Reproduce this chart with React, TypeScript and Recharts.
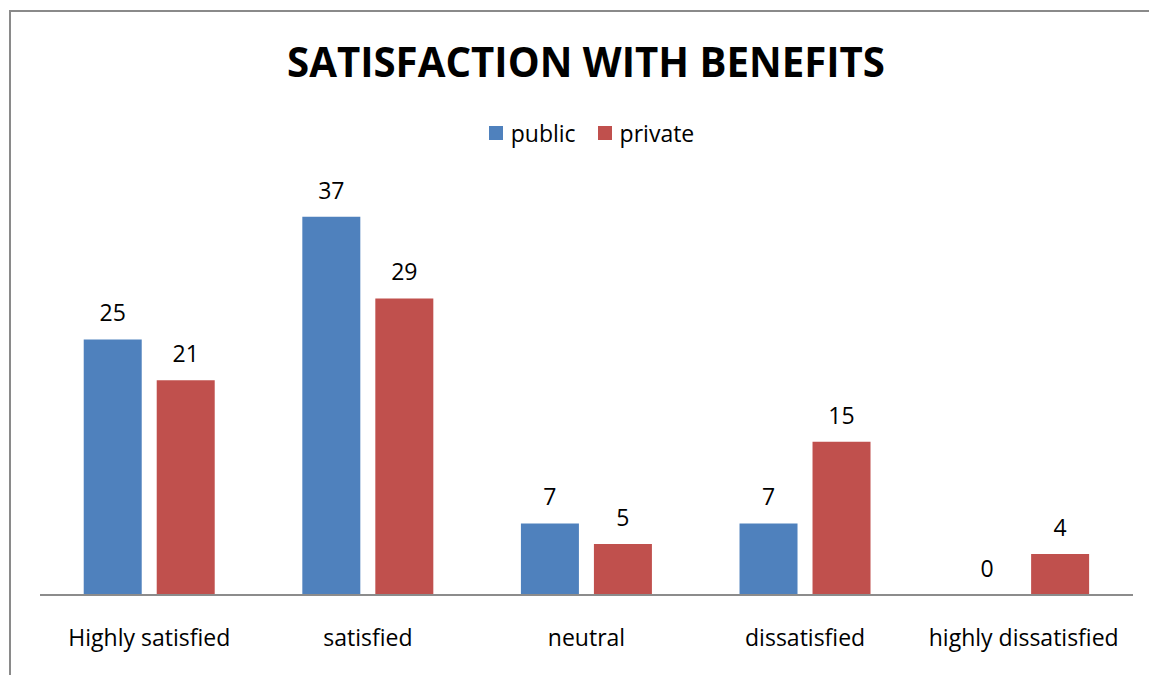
import React from "react";
import { BarChart, Bar, XAxis, YAxis, Legend, LabelList } from "recharts";

const categories = ["Highly satisfied", "satisfied", "neutral", "dissatisfied", "highly dissatisfied"];
const publicValues = [25, 37, 7, 7, 0];
const privateValues = [21, 29, 5, 15, 4];
const seriesNames = ["public", "private"];
const seriesColors = ["#4F81BD", "#C0504D"];
const title = "SATISFACTION WITH BENEFITS";

const data = categories.map((c, i) => ({
  name: c,
  public: publicValues[i],
  private: privateValues[i],
}));

const FONT = "'Open Sans', sans-serif";

const LegendContent = () => (
  <div
    style={{
      display: "flex",
      justifyContent: "center",
      alignItems: "center",
      fontFamily: FONT,
      fontSize: 23,
      color: "#000",
    }}
  >
    {seriesNames.map((n, i) => (
      <div key={n} style={{ display: "flex", alignItems: "center", marginRight: i === 0 ? 22 : 0 }}>
        <div style={{ width: 14, height: 14, background: seriesColors[i], marginRight: 8 }} />
        <span>{n}</span>
      </div>
    ))}
  </div>
);

const ValueLabel = (props: any) => {
  const { x, y, width, height, value } = props;
  if (value === undefined || value === null) return null;
  const top = Math.min(Number(y), Number(y) + Number(height || 0));
  return (
    <text
      x={Number(x) + Number(width) / 2}
      y={top - 18}
      textAnchor="middle"
      fontFamily={FONT}
      fontSize={23}
      fill="#000"
    >
      {value}
    </text>
  );
};

const tinyForZero = (value: any) => (Number(value) === 0 ? 0.01 : 0);

export default function App() {
  return (
    <div style={{ position: "absolute", left: 0, top: 0, width: 1149, height: 675, background: "#fff", overflow: "hidden" }}>
      <div
        style={{
          position: "absolute",
          left: 9,
          top: 10,
          width: 1300,
          height: 800,
          borderLeft: "2px solid #8a8a8a",
          borderTop: "2px solid #8a8a8a",
        }}
      />
      <svg style={{ position: "absolute", left: 0, top: 0 }} width={1149} height={120}>
        <text
          x={586}
          y={77}
          textAnchor="middle"
          fontFamily={FONT}
          fontWeight={700}
          fontSize={42}
          textLength={598}
          lengthAdjust="spacingAndGlyphs"
          fill="#000"
        >
          {title}
        </text>
      </svg>
      <div style={{ position: "absolute", left: 0, top: 0 }}>
        <BarChart
          width={1149}
          height={675}
          data={data}
          margin={{ top: 186, right: 16, left: 40, bottom: 20 }}
          barCategoryGap="20%"
          barGap={15}
        >
          <XAxis
            dataKey="name"
            height={60}
            axisLine={{ stroke: "#8c8c8c", strokeWidth: 2 }}
            tickLine={false}
            tickSize={0}
            tickMargin={35}
            interval={0}
            tick={{ fontFamily: FONT, fontSize: 23, fill: "#000" }}
          />
          <YAxis hide domain={[0, 40]} />
          <Legend
            verticalAlign="middle"
            align="center"
            layout="horizontal"
            wrapperStyle={{ top: 117, left: 17, width: 1149 }}
            content={<LegendContent />}
          />
          <Bar dataKey="public" fill={seriesColors[0]} minPointSize={tinyForZero} isAnimationActive={false}>
            <LabelList dataKey="public" content={ValueLabel} />
          </Bar>
          <Bar dataKey="private" fill={seriesColors[1]} minPointSize={tinyForZero} isAnimationActive={false}>
            <LabelList dataKey="private" content={ValueLabel} />
          </Bar>
        </BarChart>
      </div>
    </div>
  );
}
